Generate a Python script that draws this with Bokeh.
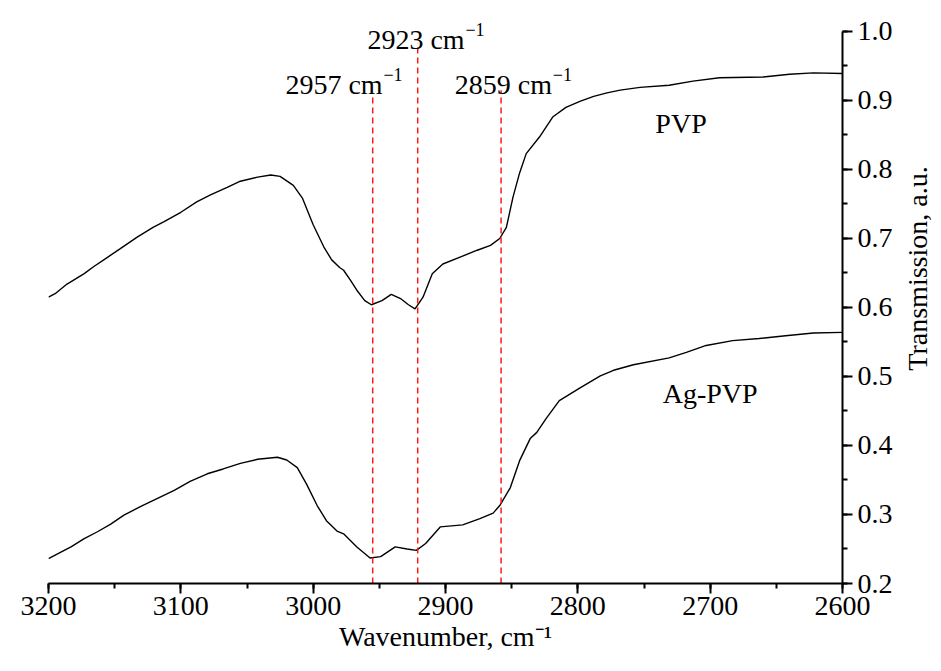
import math
from bokeh.plotting import figure
from bokeh.layouts import row
from bokeh.models import Range1d, SingleIntervalTicker, PrintfTickFormatter
from bokeh.core.properties import value
from bokeh.embed import file_html
from bokeh.resources import INLINE

# ---- data ----
pvp_x = [3200, 3195, 3186, 3173, 3166, 3156, 3146, 3133, 3121, 3113, 3100, 3088, 3078,
         3065, 3055, 3042, 3032, 3025, 3015, 3008, 3000, 2992, 2986, 2980, 2977, 2972,
         2967, 2961, 2956, 2948, 2941, 2934, 2928, 2923, 2917, 2910, 2902, 2889, 2876,
         2866, 2859, 2854, 2849, 2844, 2839, 2829, 2819, 2809, 2798, 2788, 2778, 2768,
         2753, 2731, 2713, 2693, 2660, 2640, 2622, 2600]
pvp_y = [0.615, 0.620, 0.634, 0.649, 0.659, 0.672, 0.685, 0.702, 0.716, 0.724, 0.738,
         0.753, 0.763, 0.774, 0.783, 0.789, 0.792, 0.790, 0.777, 0.758, 0.720, 0.688,
         0.669, 0.658, 0.654, 0.640, 0.625, 0.610, 0.604, 0.610, 0.619, 0.613, 0.604,
         0.598, 0.615, 0.649, 0.663, 0.673, 0.683, 0.690, 0.700, 0.716, 0.760, 0.795,
         0.823, 0.847, 0.876, 0.890, 0.899, 0.906, 0.911, 0.915, 0.919, 0.922, 0.928,
         0.933, 0.934, 0.938, 0.940, 0.939]

ag_x = [3200, 3191, 3183, 3173, 3163, 3153, 3143, 3131, 3118, 3105, 3093, 3080, 3068,
        3055, 3042, 3027, 3020, 3012, 3005, 2997, 2990, 2982, 2977, 2967, 2957, 2949,
        2938, 2929, 2922, 2915, 2904, 2887, 2874, 2864, 2859, 2851, 2844, 2836, 2831,
        2824, 2814, 2798, 2783, 2773, 2758, 2731, 2718, 2703, 2683, 2663, 2643, 2622, 2600]
ag_y = [0.236, 0.245, 0.253, 0.265, 0.275, 0.286, 0.299, 0.311, 0.323, 0.335, 0.348,
        0.359, 0.366, 0.374, 0.380, 0.383, 0.379, 0.368, 0.344, 0.313, 0.291, 0.276,
        0.272, 0.253, 0.237, 0.239, 0.253, 0.250, 0.248, 0.258, 0.282, 0.285, 0.294,
        0.302, 0.313, 0.339, 0.378, 0.410, 0.419, 0.439, 0.465, 0.484, 0.501, 0.509,
        0.517, 0.527, 0.535, 0.545, 0.552, 0.555, 0.559, 0.563, 0.564]

peak_x = [2955, 2921, 2858]
peak_top = [0.907, 0.983, 0.915]
peak_values = ["2957", "2923", "2859"]
series_names = ["PVP", "Ag-PVP"]
y_title = "Transmission, a.u."
x_title = "Wavenumber, cm\u207b\u00b9"

FONT = "Liberation Serif"
FS = "28px"

H = 655
BOTTOM = 72
W_MAIN = 895
W_SIDE = 38
p = figure(width=W_MAIN, height=H, output_backend="svg", toolbar_location=None,
           x_range=Range1d(3200, 2600), y_range=Range1d(0.2, 1.0449),
           y_axis_location="right", min_border_left=48, min_border_right=W_MAIN - 843,
           min_border_top=0, min_border_bottom=BOTTOM)
p.outline_line_color = None
p.xgrid.visible = False
p.ygrid.visible = False
p.background_fill_color = "white"
p.border_fill_color = "white"

# curves
p.line(pvp_x, pvp_y, line_color="black", line_width=1.4)
p.line(ag_x, ag_y, line_color="black", line_width=1.4)

# peak markers
p.segment(x0=peak_x, y0=[0.2] * 3, x1=peak_x, y1=peak_top,
          line_color="#ff1a1a", line_width=1.5, line_dash="6 4")

# peak labels: main text + superscript
lab_x = [3021, 2959, 2893]
lab_y = [0.923, 0.988, 0.923]
p.text(x=lab_x, y=lab_y, text=[v + " cm" for v in peak_values],
       text_font=value(FONT), text_font_size=FS, text_align="left",
       text_baseline="alphabetic", text_color="black")
p.text(x=lab_x, y=lab_y, text=["\u22121"] * 3, x_offset=98, y_offset=-10,
       text_font=value(FONT), text_font_size="18px", text_align="left",
       text_baseline="alphabetic", text_color="black")

# series labels
p.text(x=[2722, 2700], y=[0.867, 0.475], text=series_names,
       text_font=value(FONT), text_font_size=FS, text_align="center",
       text_baseline="alphabetic", text_color="black")

# axes
for ax in (p.xaxis[0], p.yaxis[0]):
    ax.axis_line_width = 2
    ax.axis_line_color = "black"
    ax.major_tick_line_width = 2
    ax.minor_tick_line_width = 2
    ax.major_tick_line_color = "black"
    ax.minor_tick_line_color = "black"
    ax.major_tick_out = 10
    ax.major_tick_in = 0
    ax.minor_tick_out = 5
    ax.minor_tick_in = 0
    ax.major_label_text_font = FONT
    ax.major_label_text_font_size = FS
    ax.major_label_text_color = "black"
    ax.axis_label_text_font = FONT
    ax.axis_label_text_font_size = FS
    ax.axis_label_text_font_style = "normal"
    ax.axis_label_text_color = "black"

p.xaxis[0].ticker = SingleIntervalTicker(interval=100, num_minor_ticks=2)
p.xaxis[0].axis_label = x_title
p.xaxis[0].major_label_standoff = 3
p.xaxis[0].axis_label_standoff = 3

p.yaxis[0].ticker = SingleIntervalTicker(interval=0.1, num_minor_ticks=2)
p.yaxis[0].formatter = PrintfTickFormatter(format="%.1f")
p.yaxis[0].major_label_standoff = 5
p.yaxis[0].bounds = (0.2, 1.0)

# side panel carrying the rotated y-axis title (shares the y scale of the main plot)
p2 = figure(width=W_SIDE, height=H, output_backend="svg", toolbar_location=None,
            x_range=Range1d(0, W_SIDE), y_range=p.y_range,
            x_axis_location=None, y_axis_location=None,
            min_border_left=0, min_border_right=0, min_border_top=0,
            min_border_bottom=BOTTOM)
p2.outline_line_color = None
p2.xgrid.visible = False
p2.ygrid.visible = False
p2.border_fill_color = "white"
p2.text(x=[917 - W_MAIN], y=[0.6565], text=[y_title], angle=math.pi / 2,
        text_font=value(FONT), text_font_size=FS, text_align="center",
        text_baseline="middle", text_color="black")

layout = row(p, p2, spacing=0)
open("out.html", "w").write(file_html(layout, INLINE))
